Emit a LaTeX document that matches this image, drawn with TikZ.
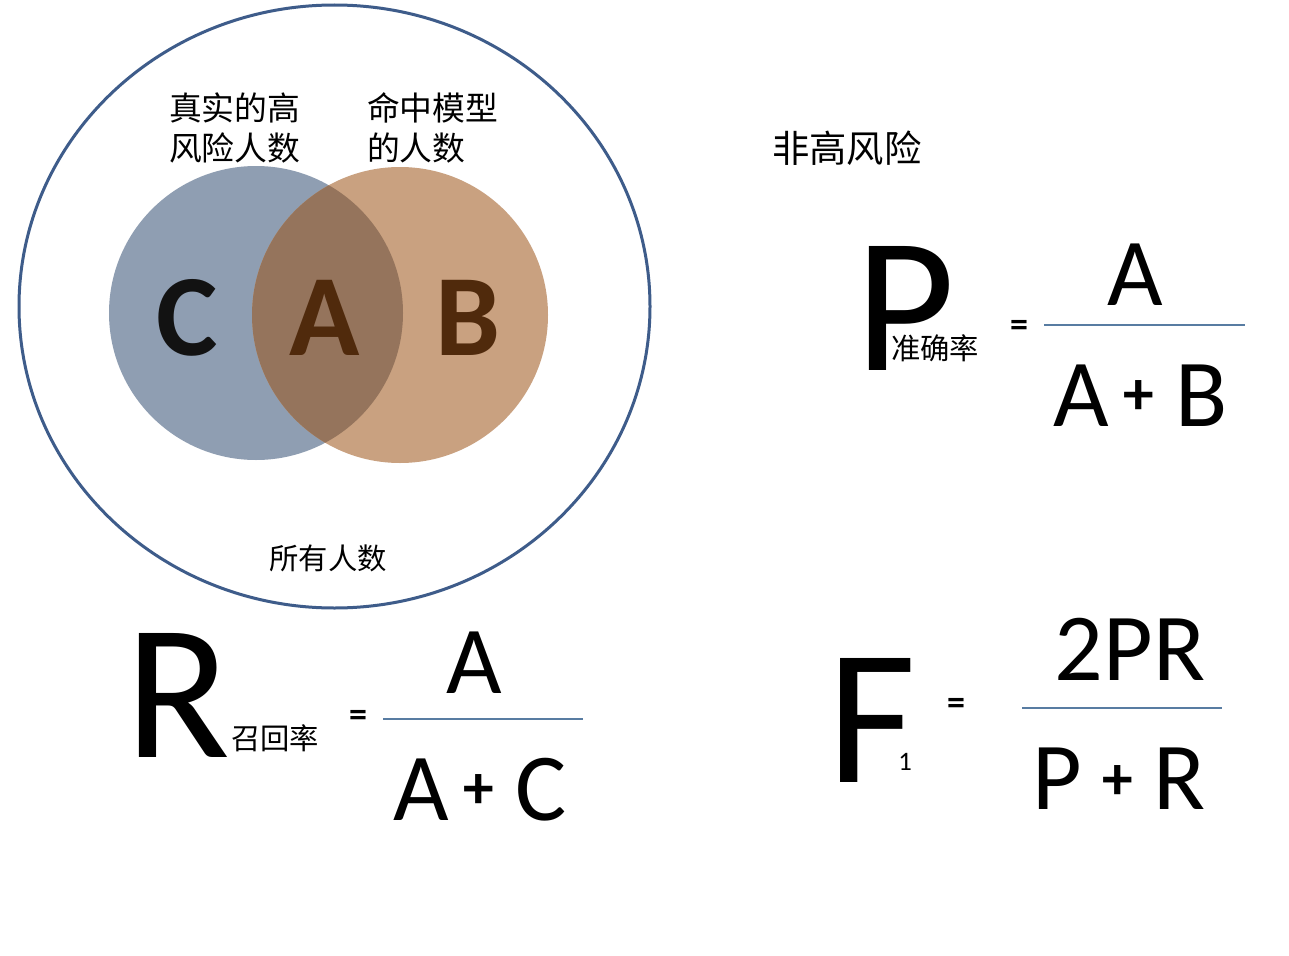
\documentclass[tikz,border=0pt]{standalone}
\usepackage{fontspec}
\setmainfont{Carlito}
\newfontfamily\cjk{Noto Sans CJK SC}
\definecolor{ringblue}{RGB}{62,92,138}
\definecolor{fracblue}{RGB}{88,124,162}
\definecolor{setc}{RGB}{143,158,178}
\definecolor{setb}{RGB}{201,161,128}
\definecolor{setab}{RGB}{149,116,92}
\definecolor{brownletter}{RGB}{80,42,12}
\definecolor{darkletter}{RGB}{18,18,18}
\tikzset{
  txt/.style={inner sep=0pt, outer sep=0pt},
  cjklabel/.style={txt, font=\cjk\fontsize{24.6}{30}\selectfont, align=left, anchor=west},
  bigletter/.style={txt, font=\fontsize{145}{145}\selectfont},
  vennletter/.style={txt, font=\bfseries\fontsize{87}{87}\selectfont},
  fracterm/.style={txt, font=\fontsize{72}{72}\selectfont},
  plussign/.style={txt, font=\bfseries\fontsize{46}{46}\selectfont},
  eqsign/.style={txt, font=\bfseries\fontsize{27}{27}\selectfont},
  subcjk/.style={txt, font=\cjk\fontsize{22}{22}\selectfont},
  fracline/.style={draw=fracblue, line width=1.5pt},
}
\begin{document}
\begin{tikzpicture}[x=0.75pt,y=-0.75pt]
\useasboundingbox (0,0) rectangle (1289,956);
\fill[white] (0,0) rectangle (1289,956);
% Venn
\fill[setc] (256,313) circle (147);
\fill[setb] (400,315) circle (148);
\begin{scope}
  \clip (256,313) circle (147);
  \fill[setab] (400,315) circle (148);
\end{scope}
\draw[ringblue, line width=2.25pt] (334.5,306.5) ellipse (315.5 and 301.5);
\node[vennletter, text=darkletter] (lc) at (187,318) {C};
\node[vennletter, text=brownletter] (la) at (325,318) {A};
\node[vennletter, text=brownletter] (lb) at (468,318) {B};
\node[cjklabel] (real) at (169,128) {真实的高\\风险人数};
\node[cjklabel] (hit) at (367,128) {命中模型\\的人数};
\node[txt, font=\cjk\fontsize{22}{22}\selectfont] (all) at (328,558) {所有人数};
\node[txt, font=\cjk\fontsize{28}{28}\selectfont, anchor=west] (nonrisk) at (772,148) {非高风险};
% P formula
\node[bigletter] (P) at (905,308) {P};
\node[subcjk] (Psub) at (935,348) {准确率};
\node[eqsign] (Peq) at (1019,328) {=};
\coordinate (P1) at (1044,325);
\coordinate (P2) at (1245,325);
\draw[fracline] (P1) -- (P2);
\node[fracterm] (Pnum) at (1135,275) {A};
\node[fracterm] (PdA) at (1081,396) {A};
\node[plussign] (Pplus) at (1139,398) {+};
\node[fracterm] (PdB) at (1202,396) {B};
% R formula
\node[bigletter] (R) at (178,695) {R};
\node[subcjk] (Rsub) at (275,738) {召回率};
\node[eqsign] (Req) at (358,718) {=};
\coordinate (R1) at (383,719);
\coordinate (R2) at (583,719);
\draw[fracline] (R1) -- (R2);
\node[fracterm] (Rnum) at (474,663) {A};
\node[fracterm] (RdA) at (421,790) {A};
\node[plussign] (Rplus) at (479,792) {+};
\node[fracterm] (RdC) at (541,790) {C};
% F formula
\node[bigletter] (F) at (872,720) {F};
\node[txt, font=\fontsize{20}{20}\selectfont] (Fsub) at (905,762) {1};
\node[eqsign] (Feq) at (956,706) {=};
\coordinate (F1) at (1022,708);
\coordinate (F2) at (1222,708);
\draw[fracline] (F1) -- (F2);
\node[fracterm] (Fnum) at (1130,649) {2PR};
\node[fracterm] (FdP) at (1057,779) {P};
\node[plussign] (Fplus) at (1118,783) {+};
\node[fracterm] (FdR) at (1180,779) {R};
\end{tikzpicture}
\end{document}
